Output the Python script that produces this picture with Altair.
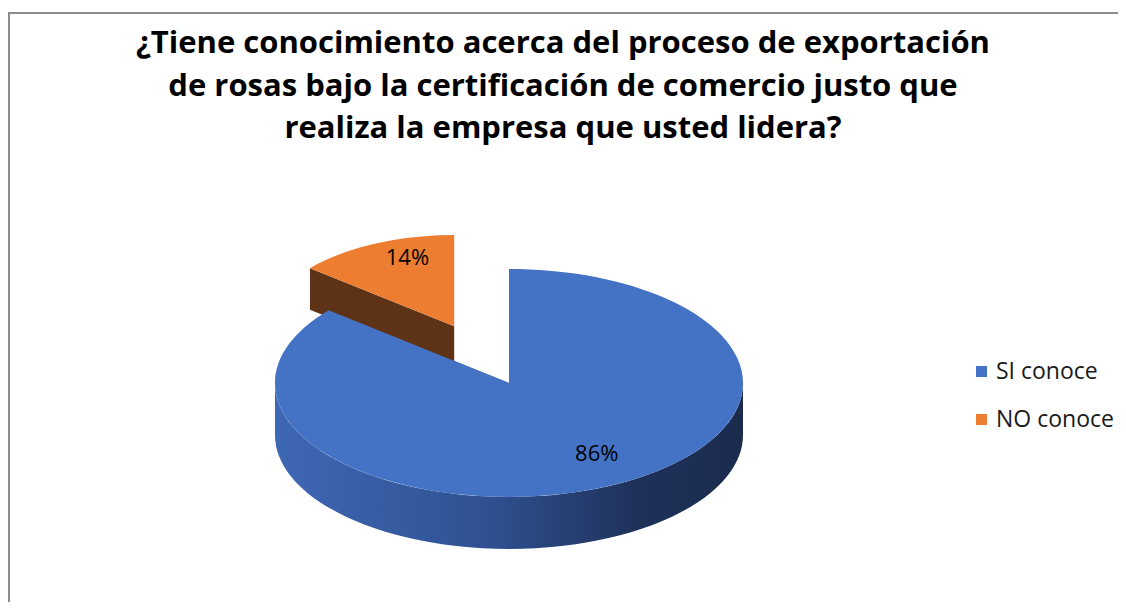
import altair as alt
import pandas as pd

# ---- data ----
categories = ["SI conoce", "NO conoce"]
values = [86, 14]
title_lines = [
    "¿Tiene conocimiento acerca del proceso de exportación",
    "de rosas bajo la certificación de comercio justo que",
    "realiza la empresa que usted lidera?",
]

# ---- style ----
top_colors = ["#4472C4", "#ED7D31"]
side_colors = ["#2a4a86", "#5E3216"]
W, H = 1110, 424
PAD_TOP = 170
CX, CY = 501, 205          # pie centre in view pixels
RX = 234                   # horizontal radius (px)
RY = 0.487                 # vertical/horizontal ratio (tilt)
D = 0.222                  # depth relative to RX
EXPLODED = "NO conoce"
EXPLODE = 0.55
SHRINK = 0.8
LF = 0.75                  # label radial factor
FONT = "Open Sans"

df = pd.DataFrame({"category": categories, "value": values,
                   "idx": list(range(len(categories)))})


def base():
    return (
        alt.Chart(df)
        .transform_joinaggregate(total="sum(value)")
        .transform_window(cum="sum(value)", sort=[alt.SortField("idx")])
        .transform_calculate(a0="2*PI*(datum.cum - datum.value)/datum.total")
        .transform_calculate(a1="2*PI*datum.cum/datum.total")
        .transform_calculate(mid="(datum.a0 + datum.a1)/2")
        .transform_calculate(e=f"datum.category == '{EXPLODED}' ? {EXPLODE} : 0")
        .transform_calculate(s=f"datum.category == '{EXPLODED}' ? {SHRINK} : 1")
        .transform_calculate(px=f"{CX} + datum.e*{RX}*sin(datum.mid)")
        .transform_calculate(py=f"{CY} - datum.e*{RX}*{RY}*cos(datum.mid)")
        .transform_calculate(sz=f"pow(2*{RX}*datum.s, 2)")
        .transform_calculate(b0="max(datum.a0, PI/2)")
        .transform_calculate(b1="min(datum.a1, 3*PI/2)")
    )


def num(expr):
    # plain ASCII number string (d3-format would use a unicode minus)
    return f"('' + round(({expr})*10000)/10000)"


def X(a):
    return num(f"sin({a})")


def Y(a, off=0):
    return num(f"{off} - {RY}*cos({a})")


top_expr = (
    f"'M0,0 L' + {X('datum.a0')} + ',' + {Y('datum.a0')} + ' A1,{RY} 0 ' + "
    f"(datum.a1 - datum.a0 > PI ? '1' : '0') + ' 1 ' + {X('datum.a1')} + ',' + {Y('datum.a1')} + ' Z'"
)


def quad(a):
    return (f"'M0,0 L' + {X(a)} + ',' + {Y(a)} + ' L' + {X(a)} + ',' + {Y(a, D)} + "
            f"' L0,{D} Z'")


quad_expr = f"{quad('datum.a0')} + ' ' + {quad('datum.a1')}"

band_expr = (
    f"'M' + {X('datum.b0')} + ',' + {Y('datum.b0')} + ' A1,{RY} 0 0 1 ' + "
    f"{X('datum.b1')} + ',' + {Y('datum.b1')} + ' L' + {X('datum.b1')} + ',' + {Y('datum.b1', D)} + "
    f"' A1,{RY} 0 0 0 ' + {X('datum.b0')} + ',' + {Y('datum.b0', D)} + ' Z'"
)

pos = dict(
    x=alt.X("px:Q", scale=None, axis=None),
    y=alt.Y("py:Q", scale=None, axis=None),
    shape=alt.Shape("path:N", scale=None, legend=None),
    size=alt.Size("sz:Q", scale=None, legend=None),
)

quads = base().transform_calculate(path=quad_expr).mark_point(
    filled=True, opacity=1, strokeWidth=0
).encode(
    fill=alt.Fill("category:N", scale=alt.Scale(domain=categories, range=side_colors), legend=None),
    **pos,
)

side_grad = alt.LinearGradient(
    gradient="linear",
    stops=[
        alt.GradientStop(color="#3f68b4", offset=0),
        alt.GradientStop(color="#2f5192", offset=0.45),
        alt.GradientStop(color="#1e3159", offset=0.78),
        alt.GradientStop(color="#1b2b4e", offset=1),
    ],
    x1=0, x2=1, y1=0, y2=0,
)

band = base().transform_filter("datum.b1 > datum.b0").transform_calculate(path=band_expr).mark_point(
    filled=True, opacity=1, strokeWidth=0, fill=side_grad
).encode(**pos)

tops = base().transform_calculate(path=top_expr).mark_point(
    filled=True, opacity=1, strokeWidth=0
).encode(
    fill=alt.Fill(
        "category:N",
        scale=alt.Scale(domain=categories, range=top_colors),
        legend=alt.Legend(
            title=None, orient="none", legendX=962, legendY=182,
            symbolType="square", symbolSize=121, symbolStrokeWidth=0,
            labelFont=FONT, labelFontSize=23, labelColor="#1a1a1a",
            labelOffset=3, rowPadding=24,
        ),
    ),
    **pos,
)

labels = base().transform_calculate(
    lx=f"datum.px + {LF}*{RX}*datum.s*sin(datum.mid)"
).transform_calculate(
    ly=f"datum.py - {LF}*{RX}*{RY}*datum.s*cos(datum.mid)"
).transform_calculate(
    label="round(100*datum.value/datum.total) + '%'"
).mark_text(
    font=FONT, fontSize=22, color="#000000", baseline="middle", align="center", dx=13, dy=-6
).encode(
    x=alt.X("lx:Q", scale=None, axis=None),
    y=alt.Y("ly:Q", scale=None, axis=None),
    text="label:N",
)

frame = alt.Data(values=[{"k": 0}])
top_rule = alt.Chart(frame).mark_rule(color="#8c8c8c", strokeWidth=2).encode(
    x=alt.value(0), x2=alt.value(W), y=alt.value(5 - PAD_TOP)
)
left_rule = alt.Chart(frame).mark_rule(color="#8c8c8c", strokeWidth=2).encode(
    x=alt.value(1), y=alt.value(4 - PAD_TOP), y2=alt.value(H + 10)
)

chart = alt.layer(top_rule, left_rule, quads, band, tops, labels).resolve_scale(
    fill="independent"
).properties(
    width=W,
    height=H,
    padding={"left": 0, "top": PAD_TOP, "right": 0, "bottom": 0},
    autosize=alt.AutoSizeParams(type="none"),
    title=alt.TitleParams(
        text=title_lines, font=FONT, fontSize=31, fontWeight="bold", color="#000000",
        lineHeight=42.5, anchor="middle", frame="group", baseline="top", offset=-20, dy=114,
    ),
).configure_view(strokeOpacity=0)

chart.save("out.html", embed_options={"renderer": "svg", "actions": False})
